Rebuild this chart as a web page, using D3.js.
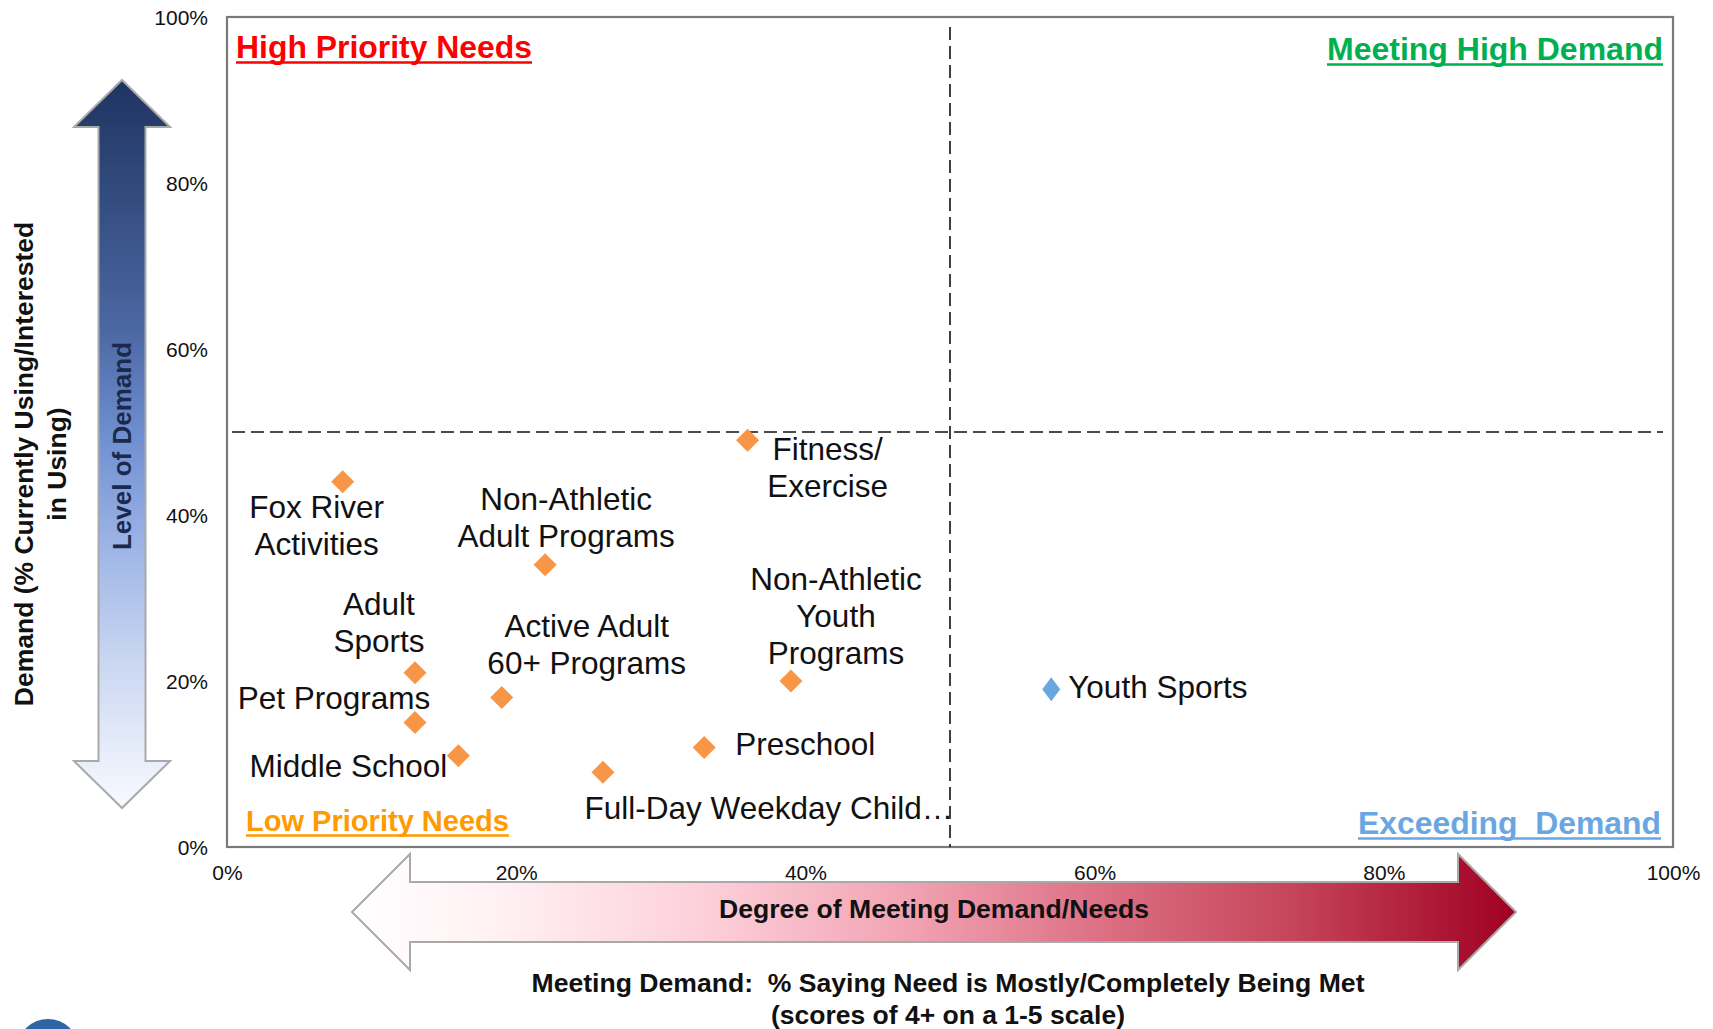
<!DOCTYPE html>
<html>
<head>
<meta charset="utf-8">
<script src="https://cdn.jsdelivr.net/npm/d3@7"></script>
<style>
  html, body { margin: 0; padding: 0; background: #ffffff; }
  svg { display: block; font-family: "Liberation Sans", Arial, sans-serif; }
  text { white-space: pre; }
</style>
</head>
<body>
<svg id="chart" width="1713" height="1029"></svg>
<script>
// ---------------- DATA ----------------
const categories = [
  "Fox River Activities", "Non-Athletic Adult Programs", "Fitness/Exercise",
  "Adult Sports", "Pet Programs", "Active Adult 60+ Programs", "Middle School",
  "Full-Day Weekday Child...", "Preschool", "Non-Athletic Youth Programs", "Youth Sports"
];
// % saying need is mostly/completely being met (x)
const meetingDemand = [8, 22, 36, 13, 13, 19, 16, 26, 33, 39, 57];
// % currently using / interested in using (y)
const demandLevel   = [44, 34, 49, 21, 15, 18, 11, 9, 12, 20, 19];
// quadrant series of each point
const pointSeries = ["low","low","low","low","low","low","low","low","low","low","exceeding"];
const labelLines = [
  ["Fox River", "Activities"], ["Non-Athletic", "Adult Programs"], ["Fitness/", "Exercise"],
  ["Adult", "Sports"], ["Pet Programs"], ["Active Adult", "60+ Programs"], ["Middle School"],
  ["Full-Day Weekday Child\u2026"], ["Preschool"], ["Non-Athletic", "Youth", "Programs"], ["Youth Sports"]
];
const xTicks = [0, 20, 40, 60, 80, 100];
const yTicks = [0, 20, 40, 60, 80, 100];
const xTickLabels = ["0%", "20%", "40%", "60%", "80%", "100%"];
const yTickLabels = ["0%", "20%", "40%", "60%", "80%", "100%"];
const threshold = 50;

// ---------------- LAYOUT / STYLE ----------------
const labelLayout = [
  {anchor: "middle", dx: -26, dy: 25},
  {anchor: "middle", dx: 21,  dy: -66},
  {anchor: "middle", dx: 80,  dy: 9},
  {anchor: "middle", dx: -36, dy: -69},
  {anchor: "middle", dx: -81, dy: -25},
  {anchor: "middle", dx: 85,  dy: -72},
  {anchor: "end",    dx: -11, dy: 10},
  {anchor: "middle", dx: 166, dy: 36},
  {anchor: "start",  dx: 31,  dy: -3},
  {anchor: "middle", dx: 45,  dy: -102},
  {anchor: "start",  dx: 17,  dy: -2}
];
const seriesColor = {low: "#F79646", exceeding: "#6AA7E2"};
const plot = {left: 227, right: 1673, top: 17, bottom: 847};

const svg = d3.select("#chart");
const defs = svg.append("defs");

const x = d3.scaleLinear().domain([0, 100]).range([plot.left, plot.right]);
const y = d3.scaleLinear().domain([0, 100]).range([plot.bottom, plot.top]);

// ---------- vertical gradient arrow (Level of Demand) ----------
const vg = defs.append("linearGradient").attr("id", "vgrad")
  .attr("x1", 0).attr("y1", 0).attr("x2", 0).attr("y2", 1);
[[0, "#1e3461"], [0.34, "#4b67a2"], [0.49, "#6f8fd0"], [0.64, "#9db4e6"], [0.8, "#cad7f1"], [1, "#f8faff"]]
  .forEach(([o, c]) => vg.append("stop").attr("offset", o).attr("stop-color", c));

const va = {cx: 122, tipTop: 80, headTop: 127, headBot: 761, tipBot: 808, headHalf: 48, shaftHalf: 23.5};
const vPath = d3.path();
vPath.moveTo(va.cx, va.tipTop);
vPath.lineTo(va.cx + va.headHalf, va.headTop);
vPath.lineTo(va.cx + va.shaftHalf, va.headTop);
vPath.lineTo(va.cx + va.shaftHalf, va.headBot);
vPath.lineTo(va.cx + va.headHalf, va.headBot);
vPath.lineTo(va.cx, va.tipBot);
vPath.lineTo(va.cx - va.headHalf, va.headBot);
vPath.lineTo(va.cx - va.shaftHalf, va.headBot);
vPath.lineTo(va.cx - va.shaftHalf, va.headTop);
vPath.lineTo(va.cx - va.headHalf, va.headTop);
vPath.closePath();
svg.append("path").attr("d", vPath.toString())
  .attr("fill", "url(#vgrad)").attr("stroke", "#a9a9a9").attr("stroke-width", 2);

svg.append("text")
  .attr("transform", "translate(131,446) rotate(-90)")
  .attr("text-anchor", "middle").attr("font-size", 26).attr("font-weight", "bold")
  .attr("fill", "#1b2a4c").text("Level of Demand");

// ---------- horizontal gradient arrow (Degree of Meeting Demand) ----------
const hg = defs.append("linearGradient").attr("id", "hgrad")
  .attr("x1", 0).attr("y1", 0).attr("x2", 1).attr("y2", 0);
[[0, "#ffffff"], [0.13, "#fff0f3"], [0.3, "#fdd0da"], [0.47, "#f2a5b5"], [0.64, "#dd7185"], [0.81, "#c54459"], [1, "#a00022"]]
  .forEach(([o, c]) => hg.append("stop").attr("offset", o).attr("stop-color", c));

const ha = {cy: 912, tipL: 352, headL: 410, headR: 1458, tipR: 1516, headHalf: 58, shaftHalf: 30};
const hPath = d3.path();
hPath.moveTo(ha.tipL, ha.cy);
hPath.lineTo(ha.headL, ha.cy - ha.headHalf);
hPath.lineTo(ha.headL, ha.cy - ha.shaftHalf);
hPath.lineTo(ha.headR, ha.cy - ha.shaftHalf);
hPath.lineTo(ha.headR, ha.cy - ha.headHalf);
hPath.lineTo(ha.tipR, ha.cy);
hPath.lineTo(ha.headR, ha.cy + ha.headHalf);
hPath.lineTo(ha.headR, ha.cy + ha.shaftHalf);
hPath.lineTo(ha.headL, ha.cy + ha.shaftHalf);
hPath.lineTo(ha.headL, ha.cy + ha.headHalf);
hPath.closePath();
svg.append("path").attr("d", hPath.toString())
  .attr("fill", "url(#hgrad)").attr("stroke", "#a9a9a9").attr("stroke-width", 2);

svg.append("text").attr("x", 934).attr("y", 918)
  .attr("text-anchor", "middle").attr("font-size", 25).attr("font-weight", "bold")
  .attr("textLength", 430).attr("lengthAdjust", "spacingAndGlyphs")
  .attr("fill", "#111").text("Degree of Meeting Demand/Needs");

// ---------- axis titles ----------
const yTitle = svg.append("text")
  .attr("transform", "translate(0,464) rotate(-90)")
  .attr("text-anchor", "middle").attr("font-size", 26.5).attr("font-weight", "bold").attr("fill", "#111");
yTitle.append("tspan").attr("x", 0).attr("y", 33).text("Demand (% Currently Using/Interested");
yTitle.append("tspan").attr("x", 0).attr("y", 66).text("in Using)");

svg.append("text").attr("x", 948).attr("y", 992)
  .attr("text-anchor", "middle").attr("font-size", 25).attr("font-weight", "bold")
  .attr("textLength", 833).attr("lengthAdjust", "spacingAndGlyphs")
  .attr("fill", "#111").text("Meeting Demand:  % Saying Need is Mostly/Completely Being Met");
svg.append("text").attr("x", 948).attr("y", 1024)
  .attr("text-anchor", "middle").attr("font-size", 25).attr("font-weight", "bold")
  .attr("textLength", 354).attr("lengthAdjust", "spacingAndGlyphs")
  .attr("fill", "#111").text("(scores of 4+ on a 1-5 scale)");

// ---------- plot frame ----------
svg.append("rect")
  .attr("x", plot.left).attr("y", plot.top)
  .attr("width", plot.right - plot.left).attr("height", plot.bottom - plot.top)
  .attr("fill", "none").attr("stroke", "#7a7a7a").attr("stroke-width", 2.2);

// ---------- axes ----------
const yAxis = d3.axisLeft(y).tickValues(yTicks)
  .tickFormat((d, i) => yTickLabels[i]).tickSize(0).tickPadding(19);
const yg = svg.append("g").attr("transform", `translate(${plot.left},0)`).call(yAxis);
yg.select(".domain").remove();
yg.selectAll("text").attr("font-size", 21).attr("font-family", "Liberation Sans, Arial, sans-serif")
  .attr("fill", "#111").attr("dy", "0.35em");

const xAxis = d3.axisBottom(x).tickValues(xTicks)
  .tickFormat((d, i) => xTickLabels[i]).tickSize(0).tickPadding(0);
const xg = svg.append("g").attr("transform", `translate(0,${plot.bottom})`).call(xAxis);
xg.select(".domain").remove();
xg.selectAll("text").attr("font-size", 21).attr("font-family", "Liberation Sans, Arial, sans-serif")
  .attr("fill", "#111").attr("y", 26).attr("dy", "0.35em");

// ---------- threshold dashed lines ----------
svg.append("line")
  .attr("x1", plot.left + 5).attr("x2", plot.right - 10)
  .attr("y1", y(threshold)).attr("y2", y(threshold))
  .attr("stroke", "#111").attr("stroke-width", 1.6).attr("stroke-dasharray", "13,6");
svg.append("line")
  .attr("x1", x(threshold)).attr("x2", x(threshold))
  .attr("y1", plot.top + 10).attr("y2", plot.bottom)
  .attr("stroke", "#111").attr("stroke-width", 1.6).attr("stroke-dasharray", "13,6");

// ---------- quadrant labels ----------
const quadrants = [
  {text: "High Priority Needs", color: "#FF0000", x: 236, y: 58, anchor: "start", len: 296, fs: 32},
  {text: "Meeting High Demand", color: "#00B050", x: 1663, y: 60, anchor: "end", len: 336, fs: 32},
  {text: "Low Priority Needs", color: "#FF9A00", x: 246, y: 831, anchor: "start", len: 263, fs: 30},
  {text: "Exceeding  Demand", color: "#6AA7E2", x: 1661, y: 834, anchor: "end", len: 303, fs: 32}
];
quadrants.forEach(q => {
  svg.append("text").attr("x", q.x).attr("y", q.y).attr("text-anchor", q.anchor)
    .attr("font-size", q.fs).attr("font-weight", "bold").attr("fill", q.color)
    .attr("textLength", q.len).attr("lengthAdjust", "spacingAndGlyphs").text(q.text);
  const x0 = q.anchor === "start" ? q.x : q.x - q.len;
  svg.append("line").attr("x1", x0).attr("x2", x0 + q.len)
    .attr("y1", q.y + 4.5).attr("y2", q.y + 4.5)
    .attr("stroke", q.color).attr("stroke-width", 2.6);
});

// ---------- points ----------
const pts = categories.map((c, i) => ({
  name: c, mx: meetingDemand[i], dy: demandLevel[i], s: pointSeries[i],
  lines: labelLines[i], lay: labelLayout[i]
}));

function diamond(w, h) {
  return `M0,${-h / 2}L${w / 2},0L0,${h / 2}L${-w / 2},0Z`;
}
svg.append("g").selectAll("path").data(pts).join("path")
  .attr("transform", d => `translate(${x(d.mx)},${y(d.dy)})`)
  .attr("d", d => d.s === "exceeding" ? diamond(18, 24) : diamond(23, 23))
  .attr("fill", d => seriesColor[d.s]);

const lg = svg.append("g").attr("font-size", 31.5).attr("fill", "#111");
pts.forEach(d => {
  const px = x(d.mx) + d.lay.dx;
  const py = y(d.dy) + d.lay.dy;
  const t = lg.append("text").attr("text-anchor", d.lay.anchor);
  d.lines.forEach((ln, k) => {
    t.append("tspan").attr("x", px).attr("y", py + k * 37 + 11).text(ln);
  });
});

// ---------- partial logo at bottom-left ----------
svg.append("circle").attr("cx", 48).attr("cy", 1050).attr("r", 31).attr("fill", "#2e65a5");
</script>
</body>
</html>
